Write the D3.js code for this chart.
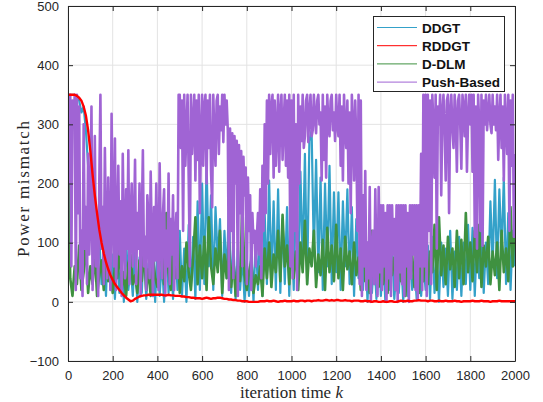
<!DOCTYPE html>
<html>
<head>
<meta charset="utf-8">
<script src="https://cdn.jsdelivr.net/npm/d3@7/dist/d3.min.js"></script>
<style>
  body { margin: 0; background: #fff; }
  svg { display: block; }
</style>
</head>
<body>
<div id="chart"></div>
<script>
// iteration axis
var kMax = 2000;
var xTicks = [0, 200, 400, 600, 800, 1000, 1200, 1400, 1600, 1800, 2000];
var yTicks = [-100, 0, 100, 200, 300, 400, 500];
var seriesNames = ["DDGT", "RDDGT", "D-DLM", "Push-Based"];
var seriesColors = ["#34a1c9", "#ff0000", "#3f9140", "#a064d4"];

// Push-Based, one value every 5 iterations (k = 0,5,...,2000)
var pushStep = 5;
var pushBased = [
  350,200,350,60,340,300,350,20,350,150,330,40,120,10,300,90,160,30,250,80,
  140,330,20,110,280,60,150,10,200,350,90,160,30,260,120,40,210,100,20,318,
  150,60,276,20,130,230,80,170,10,250,110,40,190,90,256,30,140,200,60,120,
  240,30,150,90,200,10,130,256,60,110,20,180,140,40,220,100,10,160,70,200,
  90,20,234,110,40,150,190,10,120,60,217,30,140,80,180,20,110,150,40,350,
  350,260,340,120,350,230,290,350,210,60,350,250,300,350,205,340,240,350,150,280,
  350,230,330,350,200,340,260,350,220,160,350,280,230,340,350,250,330,290,350,270,
  350,300,340,290,20,293,120,285,40,280,200,272,10,265,150,255,60,245,180,227,
  30,210,120,180,20,150,100,120,60,110,150,80,190,40,230,120,300,150,340,200,
  350,250,330,350,210,340,230,290,350,220,320,350,240,300,350,230,340,210,350,60,
  340,40,350,120,300,20,350,200,330,272,350,260,280,340,350,270,320,350,280,290,
  350,310,285,340,350,300,320,205,350,240,330,210,350,300,280,340,350,290,320,272,
  350,300,280,350,230,330,205,350,290,260,340,200,320,150,350,300,205,340,272,120,
  350,30,340,10,180,60,221,20,100,40,194,0,80,120,30,190,60,10,194,50,
  163,20,163,60,150,0,163,40,163,10,163,80,140,20,163,0,163,50,163,30,
  163,10,163,60,150,0,163,40,163,80,163,20,163,5,163,60,250,20,350,60,
  350,10,350,120,340,30,350,300,210,350,90,330,300,350,180,320,350,290,205,340,
  350,150,320,350,290,260,350,310,220,340,350,300,225,350,330,280,350,220,310,350,
  300,350,220,350,110,330,90,350,300,120,350,95,340,300,350,290,320,350,300,285,
  350,300,330,290,350,240,310,350,260,330,205,350,300,250,350,120,340,230,350,110,
  250
];

// D-DLM, one value every 10 iterations
var otherStep = 10;
var dDLM = [
  270,40,10,60,30,95,20,50,100,15,60,30,85,10,45,70,20,90,35,55,
  15,60,40,92,20,50,10,65,80,30,45,15,70,35,85,20,55,10,75,40,
  25,70,110,30,150,50,20,90,40,120,15,60,35,100,50,20,75,143,30,95,
  40,110,20,143,60,30,90,50,120,15,80,40,100,25,70,10,60,35,166,45,
  20,50,70,15,45,30,60,10,90,40,100,25,80,50,120,35,147,60,95,30,
  110,40,85,20,100,50,137,30,90,60,120,25,80,45,105,20,125,50,95,35,
  130,40,90,20,110,55,85,30,100,45,75,20,180,35,60,15,120,40,70,25,
  90,30,60,15,110,45,75,20,95,35,65,10,100,40,80,25,70,15,120,35,
  100,30,85,50,130,20,143,45,95,30,110,55,90,25,120,40,105,30,150,50,
  100,35,120,50,130,25,95,60,110,30,85,45,100,20,120,50,90,35,160,60,
  145
];

// DDGT, one value every 10 iterations
var dDGT = [
  350,350,350,350,345,340,320,330,290,230,180,90,130,60,110,30,90,10,120,20,
  80,5,100,15,70,0,110,20,60,10,90,0,75,15,100,5,65,20,85,0,
  95,10,70,0,110,15,80,5,100,20,120,10,90,0,130,25,110,5,170,20,
  200,30,235,60,180,20,160,70,140,10,120,40,165,15,100,5,90,20,80,0,
  70,10,90,0,110,20,130,10,150,30,205,40,170,20,190,15,140,30,160,10,
  120,20,180,40,220,60,250,30,272,290,80,240,50,210,20,200,60,230,30,185,
  50,185,20,170,60,190,30,160,10,140,40,120,20,110,0,90,15,80,5,100,
  10,85,0,70,20,95,5,60,15,80,0,100,10,75,20,65,5,90,10,70,
  20,95,5,110,15,80,0,100,25,90,10,120,5,85,20,110,10,100,30,130,
  20,125,10,110,40,130,15,100,30,170,60,206,40,190,80,210,30,150,20,120,
  60
];

// RDDGT, one value every 10 iterations
var rDDGT = [
  350,350,350,350,348,345,340,330,315,290,255,215,180,150,122,100,82,67,55,45,
  37,30,25,20,15,11,7,4,1,2,5,7,9,10,11,11,12,12,12,12,
  12,12,12,11,11,12,11,11,10,10,10,9,9,8,8,7,7,6,6,6,
  5,6,7,6,5,6,6,7,7,6,5,5,4,4,3,3,2,2,1,1,
  1,0,0,0,0,0,1,1,1,2,1,1,2,1,0,1,1,2,1,1,
  1,2,1,1,2,2,1,2,2,1,2,2,3,2,2,3,3,2,3,2,
  3,3,2,2,3,2,2,1,2,2,2,1,1,2,1,1,0,1,1,0,
  0,1,0,0,1,1,0,0,1,2,1,1,2,1,1,2,2,3,2,2,
  2,1,2,2,1,1,2,1,1,2,1,1,1,2,1,1,0,1,1,1,
  1,2,1,1,1,2,1,1,1,0,1,1,1,2,1,1,1,1,1,1,
  1
];

var margin = {top: 6, right: 28, bottom: 41, left: 68},
    width = 543 - margin.left - margin.right,
    height = 402 - margin.top - margin.bottom;

var svg = d3.select("#chart")
  .append("svg")
  .attr("width", 543)
  .attr("height", 402)
  .append("g")
  .attr("transform", "translate(" + margin.left + "," + margin.top + ")");

var x = d3.scaleLinear().domain([0, kMax]).range([0, width]);
var y = d3.scaleLinear().domain([-100, 500]).range([height, 0]);

// grid
svg.append("g")
  .selectAll("line")
  .data(xTicks).enter()
  .append("line")
  .attr("x1", function(d) { return x(d); })
  .attr("x2", function(d) { return x(d); })
  .attr("y1", 0).attr("y2", height)
  .attr("stroke", "#e3e3e3").attr("stroke-width", 1);
svg.append("g")
  .selectAll("line")
  .data(yTicks).enter()
  .append("line")
  .attr("x1", 0).attr("x2", width)
  .attr("y1", function(d) { return y(d); })
  .attr("y2", function(d) { return y(d); })
  .attr("stroke", "#e3e3e3").attr("stroke-width", 1);

svg.append("clipPath").attr("id", "clip")
  .append("rect").attr("width", width).attr("height", height);

function drawSeries(data, step, color, sw) {
  svg.append("path")
    .datum(data)
    .attr("clip-path", "url(#clip)")
    .attr("fill", "none")
    .attr("stroke", color)
    .attr("stroke-width", sw)
    .attr("stroke-linejoin", "round")
    .attr("d", d3.line()
      .x(function(d, i) { return x(i * step); })
      .y(function(d) { return y(d); }));
}

drawSeries(dDGT, otherStep, seriesColors[0], 2.2);
drawSeries(dDLM, otherStep, seriesColors[2], 2.6);
drawSeries(pushBased, pushStep, seriesColors[3], 2.6);
drawSeries(rDDGT, otherStep, seriesColors[1], 2.4);

// axes (box with inward ticks)
var axisColor = "#262626";
svg.append("g")
  .attr("transform", "translate(0," + height + ")")
  .call(d3.axisBottom(x).tickValues(xTicks).tickFormat(d3.format("d"))
    .tickSizeInner(-5).tickSizeOuter(0).tickPadding(10));
svg.append("g")
  .call(d3.axisLeft(y).tickValues(yTicks).tickFormat(d3.format("d"))
    .tickSizeInner(-5).tickSizeOuter(0).tickPadding(9));
svg.append("g")
  .call(d3.axisTop(x).tickValues(xTicks).tickSizeInner(-5).tickSizeOuter(0).tickFormat(""));
svg.append("g")
  .attr("transform", "translate(" + width + ",0)")
  .call(d3.axisRight(y).tickValues(yTicks).tickSizeInner(-5).tickSizeOuter(0).tickFormat(""));

svg.selectAll(".domain").attr("stroke", axisColor);
svg.selectAll(".tick line").attr("stroke", axisColor);
svg.selectAll(".tick text")
  .attr("fill", axisColor)
  .style("font-family", "'Liberation Sans', Arial, sans-serif")
  .style("font-size", "13px");

// axis labels
var xLabel = svg.append("text")
  .attr("x", width / 2)
  .attr("y", height + 37)
  .attr("text-anchor", "middle")
  .style("font-family", "'Liberation Serif', 'DejaVu Serif', serif")
  .style("font-size", "17px")
  .attr("fill", axisColor);
xLabel.append("tspan").text("iteration time ");
xLabel.append("tspan").style("font-style", "italic").text("k");

svg.append("text")
  .attr("transform", "rotate(-90)")
  .attr("x", -(189 - margin.top))
  .attr("y", 23 - margin.left + 6)
  .attr("text-anchor", "middle")
  .style("font-family", "'Liberation Serif', 'DejaVu Serif', serif")
  .style("font-size", "17px")
  .attr("textLength", 136)
  .attr("fill", axisColor)
  .text("Power mismatch");

// legend
var legend = svg.append("g")
  .attr("transform", "translate(" + (373 - margin.left) + "," + (16 - margin.top) + ")");
legend.append("rect")
  .attr("x", 0.5).attr("y", 0.5)
  .attr("width", 131).attr("height", 75)
  .attr("fill", "#fff")
  .attr("stroke", axisColor)
  .attr("stroke-width", 1);
seriesNames.forEach(function(name, i) {
  var ly = 11.5 + i * 18.2;
  legend.append("line")
    .attr("x1", 4).attr("x2", 44)
    .attr("y1", ly).attr("y2", ly)
    .attr("stroke", seriesColors[i])
    .attr("stroke-width", 1);
  legend.append("text")
    .attr("x", 49).attr("y", ly + 5)
    .style("font-family", "'Liberation Sans', Arial, sans-serif")
    .style("font-weight", "bold")
    .style("font-size", "13.5px")
    .attr("fill", "#111")
    .text(name);
});
</script>
</body>
</html>
